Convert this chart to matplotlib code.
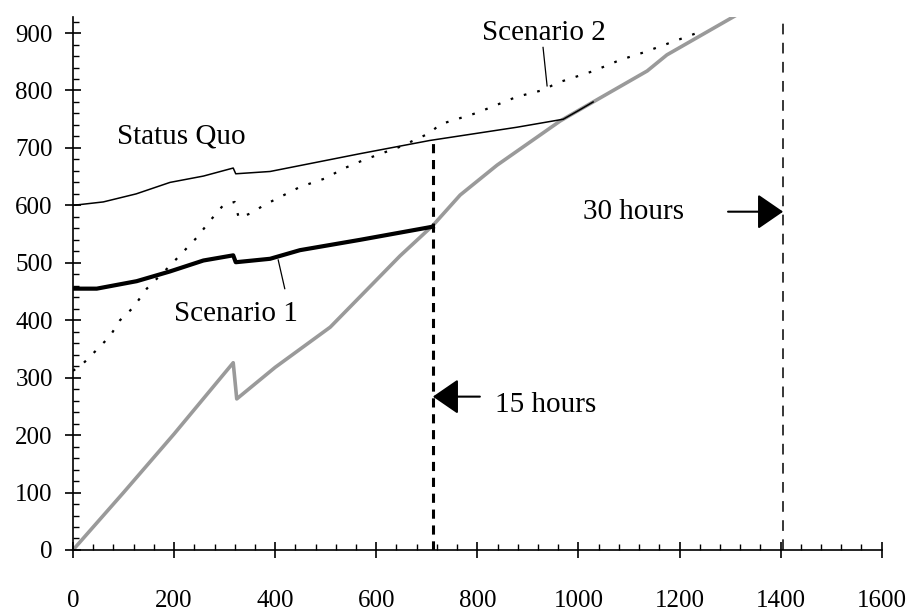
import numpy as np
import matplotlib.pyplot as plt
from matplotlib.ticker import MultipleLocator

plt.rcParams['font.family'] = ['Liberation Serif', 'DejaVu Serif']

# grey curve (unlabelled)
grey_x = [0, 100, 200, 317, 324, 400, 509, 647, 712, 766, 839, 964, 1029, 1136, 1175, 1314]
grey_y = [0, 100, 202, 326, 263, 318, 388, 512, 565, 618, 670, 747, 780, 834, 862, 932]

# Status Quo (thin solid)
sq_x = [0, 60, 125, 192, 258, 317, 322, 390, 568, 706, 878, 970, 1000, 1029]
sq_y = [600, 606, 620, 640, 651, 665, 655, 659, 690, 713, 736, 750, 765, 780]

# Scenario 1 (thick solid)
s1_x = [0, 47, 126, 192, 258, 317, 322, 390, 449, 568, 700, 712]
s1_y = [455, 455, 468, 485, 504, 513, 501, 507, 522, 540, 561, 563]

# Scenario 2 (dotted)
s2_x = [0, 17, 43, 73, 93, 119, 146, 192, 218, 245, 271, 297, 320, 328, 354, 377,
        449, 499, 535, 578, 647, 706, 726, 799, 878, 931, 957, 1030, 1082, 1128, 1181, 1234]
s2_y = [312, 322, 345, 372, 400, 422, 455, 495, 519, 544, 573, 600, 606, 578, 587, 600,
        632, 647, 664, 680, 702, 726, 741, 761, 789, 801, 813, 834, 853, 866, 883, 900]

x15 = 712   # 15 hours
x30 = 1405  # 30 hours

fig = plt.figure(figsize=(9.1, 6.13), dpi=100)
ax = fig.add_axes([0.0802, 0.1028, 0.8887, 0.8695])

ax.plot(grey_x, grey_y, color='#9a9a9a', lw=2.6, zorder=1)
ax.plot(sq_x, sq_y, color='k', lw=1.1, zorder=3)
ax.plot(s1_x, s1_y, color='k', lw=3.0, zorder=3)
ax.plot(s2_x, s2_y, color='k', lw=1.6, linestyle=(0, (1.2, 5.0)), zorder=3)

ax.plot([x15, x15], [0, 713], color='k', lw=2.2, linestyle=(0, (3.0, 2.2)), zorder=2)
ax.plot([x30, x30], [0, 928], color='k', lw=1.1, linestyle=(0, (7.0, 5.5)), zorder=2, clip_on=False)

tfs = 21
ax.text(87, 720, 'Status Quo', fontsize=tfs, va='center', ha='left')
ax.text(200, 410, 'Scenario 1', fontsize=tfs, va='center', ha='left')
ax.plot([406, 419], [505, 455], color='k', lw=0.9)
ax.text(809, 900, 'Scenario 2', fontsize=tfs, va='center', ha='left')
ax.plot([930, 938], [875, 808], color='k', lw=0.9)
ax.text(1009, 589, '30 hours', fontsize=tfs, va='center', ha='left')
ax.text(835, 253, '15 hours', fontsize=tfs, va='center', ha='left')

astyle = dict(arrowstyle='-|>,head_length=0.8,head_width=0.55', color='k', lw=1.5,
              mutation_scale=20, shrinkA=0, shrinkB=0)
ax.annotate('', xy=(x30, 589), xytext=(1296, 589), arrowprops=astyle)
ax.annotate('', xy=(x15, 267), xytext=(805, 267), arrowprops=astyle)

ax.set_xlim(0, 1600)
ax.set_ylim(0, 928)
ax.spines['top'].set_visible(False)
ax.spines['right'].set_visible(False)
ax.spines['left'].set_linewidth(1.2)
ax.spines['bottom'].set_linewidth(1.2)

ax.set_xticks(np.arange(0, 1601, 200))
ax.set_yticks(np.arange(0, 901, 100))
ax.xaxis.set_minor_locator(MultipleLocator(40))
ax.yaxis.set_minor_locator(MultipleLocator(20))
ax.tick_params(which='major', direction='inout', length=11, width=1.2, labelsize=18)
ax.tick_params(which='minor', direction='in', length=4, width=1.0)
ax.tick_params(axis='x', which='major', pad=23)
ax.tick_params(axis='y', which='major', pad=9)

fig.savefig('out.png', dpi=100)
